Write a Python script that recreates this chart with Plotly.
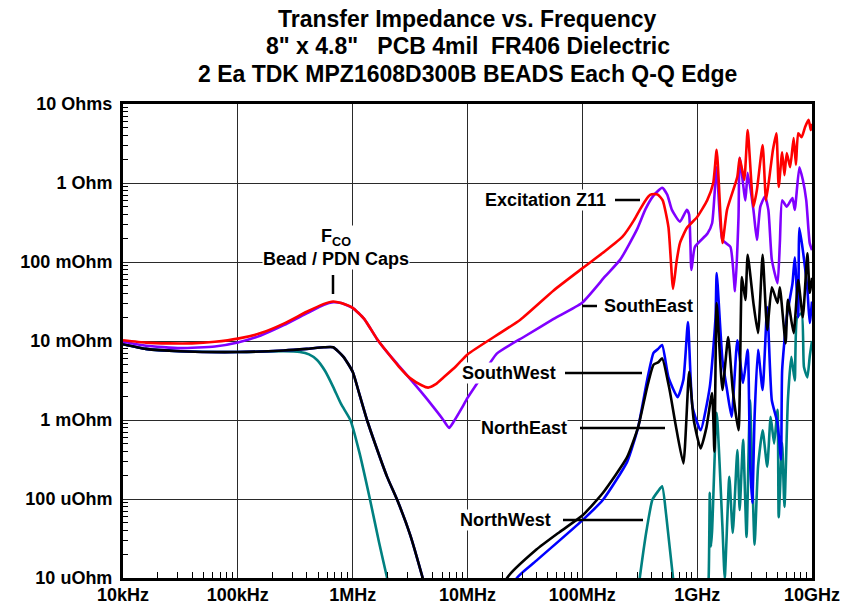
import plotly.graph_objects as go

# ---------------- data (log10 of Hz and log10 of Ohms) ----------------
red_logf = [4.00, 4.2, 4.4, 4.6, 4.8, 5.0, 5.2, 5.4, 5.6, 5.75, 5.83, 5.9, 6.0, 6.1, 6.21, 6.3, 6.4, 6.5, 6.6,
            6.657, 6.72, 6.8, 6.9, 7.0, 7.46, 7.75, 8.0, 8.2, 8.35, 8.45, 8.50, 8.55, 8.59, 8.63, 8.66, 8.70,
            8.75, 8.79, 8.82, 8.85, 8.91, 9.00, 9.087, 9.14, 9.17, 9.22, 9.26, 9.35, 9.37, 9.41, 9.44, 9.49,
            9.52, 9.57, 9.60, 9.64, 9.66, 9.69, 9.71, 9.74, 9.76, 9.78, 9.81, 9.84, 9.86, 9.88, 9.91, 9.94,
            9.97, 9.99, 10.0]
red_logz = [-1.99, -2.02, -2.03, -2.03, -2.01, -1.97, -1.90, -1.78, -1.63, -1.53, -1.50, -1.52, -1.58, -1.72,
            -1.97, -2.14, -2.32, -2.47, -2.56, -2.59, -2.55, -2.45, -2.32, -2.17, -1.73, -1.36, -1.08, -0.86,
            -0.68, -0.47, -0.34, -0.22, -0.15, -0.14, -0.15, -0.22, -0.56, -1.34, -1.0, -0.76, -0.57, -0.43,
            -0.22, 0.0, 0.42, -0.76, -0.34, 0.08, 0.32, 0.04, 0.67, -0.30, -0.09, 0.48, -0.22, 0.20, 0.42,
            0.63, -0.05, 0.39, 0.10, 0.38, 0.20, 0.57, 0.23, 0.63, 0.58, 0.71, 0.80, 0.67, 0.75]

purple_logf = [4.0, 4.2, 4.5, 4.8, 5.0, 5.2, 5.4, 5.6, 5.75, 5.83, 5.9, 6.0, 6.1, 6.21, 6.3, 6.4, 6.5, 6.6,
               6.7, 6.78, 6.84, 6.88, 6.95, 7.0, 7.1, 7.255, 7.5, 7.75, 7.995, 8.2, 8.33, 8.475, 8.55, 8.62,
               8.695, 8.74, 8.78, 8.85, 8.91, 8.93, 8.95, 8.98, 9.09, 9.13, 9.17, 9.22, 9.29, 9.33, 9.36, 9.37,
               9.42, 9.44, 9.49, 9.52, 9.55, 9.59, 9.62, 9.65, 9.70, 9.72, 9.74, 9.78, 9.83, 9.85, 9.89, 9.92,
               9.95, 9.98, 10.0]
purple_logz = [-2.01, -2.06, -2.09, -2.07, -2.02, -1.93, -1.80, -1.65, -1.54, -1.51, -1.52, -1.58, -1.72,
               -1.97, -2.14, -2.31, -2.48, -2.65, -2.83, -2.98, -3.10, -3.02, -2.85, -2.72, -2.50, -2.16,
               -1.94, -1.72, -1.52, -1.18, -0.97, -0.59, -0.33, -0.16, -0.06, -0.15, -0.34, -0.49, -0.34,
               -0.40, -1.10, -0.81, -0.64, -0.51, 0.20, -0.72, -0.81, -1.37, -0.43, 0.32, -0.22, 0.13, -0.34,
               -0.72, -0.30, -0.17, -0.34, -0.97, -1.27, -0.76, -0.22, -0.30, -0.19, -0.34, 0.20, 0.04, -0.22,
               -0.76, -0.85]

black_logf = [4.0, 4.2, 4.5, 5.0, 5.4, 5.6, 5.75, 5.83, 5.92, 6.0, 6.06, 6.125, 6.2, 6.3, 6.39, 6.5, 6.61,
              6.72, 7.25, 7.345, 7.6, 7.8, 8.0, 8.18, 8.39, 8.486, 8.565, 8.62, 8.66, 8.695, 8.76, 8.81, 8.88,
              8.93, 8.97, 9.03, 9.08, 9.13, 9.15, 9.17, 9.22, 9.27, 9.31, 9.36, 9.39, 9.42, 9.44, 9.49, 9.53,
              9.57, 9.61, 9.65, 9.70, 9.72, 9.77, 9.79, 9.84, 9.88, 9.92, 9.96, 9.98, 10.0]
black_logz = [-2.04, -2.10, -2.13, -2.14, -2.12, -2.10, -2.08, -2.08, -2.20, -2.39, -2.68, -3.0, -3.32, -3.72,
              -4.02, -4.45, -5.0, -5.6, -5.6, -5.0, -4.64, -4.42, -4.21, -3.92, -3.47, -3.09, -2.58, -2.30,
              -2.27, -2.22, -2.62, -3.04, -3.55, -2.39, -3.0, -3.36, -3.1, -2.66, -3.40, -1.52, -2.62, -1.95,
              -2.62, -3.13, -1.19, -1.48, -0.91, -1.52, -1.90, -0.91, -1.86, -1.32, -1.52, -1.32, -2.03, -1.48,
              -1.90, -1.23, -1.70, -0.89, -1.39, -1.2]

blue_logf = [4.0, 4.2, 4.5, 5.0, 5.4, 5.6, 5.75, 5.83, 5.92, 6.0, 6.06, 6.125, 6.2, 6.3, 6.39, 6.5, 6.61,
             6.72, 7.3, 7.43, 7.6, 8.0, 8.18, 8.39, 8.486, 8.565, 8.62, 8.66, 8.695, 8.75, 8.83, 8.88, 8.92,
             8.96, 9.03, 9.11, 9.16, 9.17, 9.22, 9.26, 9.30, 9.35, 9.40, 9.44, 9.46, 9.48, 9.50, 9.53, 9.57,
             9.61, 9.65, 9.70, 9.73, 9.74, 9.78, 9.83, 9.85, 9.88, 9.89, 9.92, 9.96, 9.98, 10.0]
blue_logz = [-2.04, -2.10, -2.13, -2.14, -2.12, -2.10, -2.08, -2.08, -2.20, -2.39, -2.68, -3.0, -3.32, -3.72,
             -4.02, -4.45, -5.0, -5.6, -5.6, -5.0, -4.78, -4.27, -4.01, -3.53, -3.09, -2.49, -2.15, -2.10,
             -2.05, -2.46, -2.71, -2.49, -1.76, -2.84, -3.13, -2.58, -1.70, -1.14, -2.24, -2.62, -2.96, -1.99,
             -2.53, -2.11, -3.5, -4.05, -2.96, -2.11, -2.62, -1.57, -2.75, -3.04, -3.5, -2.37, -1.70, -1.27,
             -0.94, -1.70, -0.57, -0.85, -1.35, -1.77, -1.5]

teal_logf = [4.0, 4.2, 4.5, 5.0, 5.4, 5.54, 5.62, 5.69, 5.76, 5.83, 5.9, 5.98, 6.06, 6.15, 6.23, 6.30, 6.4,
             8.45, 8.50, 8.56, 8.61, 8.66, 8.695, 8.73, 8.79, 8.85, 9.07, 9.10, 9.11, 9.12, 9.13, 9.17, 9.22,
             9.24, 9.28, 9.31, 9.35, 9.37, 9.40, 9.43, 9.46, 9.50, 9.53, 9.57, 9.61, 9.64, 9.67, 9.70, 9.71,
             9.74, 9.76, 9.79, 9.82, 9.85, 9.87, 9.91, 9.93, 9.96, 9.98, 10.0]
teal_logz = [-2.04, -2.10, -2.13, -2.14, -2.13, -2.14, -2.17, -2.24, -2.38, -2.58, -2.80, -3.0, -3.42, -4.0,
             -4.55, -5.0, -5.6, -5.6, -5.0, -4.39, -4.01, -3.9, -3.84, -4.2, -5.0, -5.6, -5.6, -5.0, -3.92,
             -4.6, -4.4, -2.91, -4.35, -5.0, -3.72, -4.43, -3.38, -4.14, -3.25, -4.48, -2.75, -4.58, -3.59,
             -3.13, -3.59, -2.96, -3.3, -2.87, -4.23, -3.29, -4.10, -2.75, -2.2, -2.5, -1.70, -1.65, -2.33,
             -2.46, -2.20, -2.0]

x_tick_vals = [1e4, 1e5, 1e6, 1e7, 1e8, 1e9, 1e10]
x_tick_text = ["10kHz", "100kHz", "1MHz", "10MHz", "100MHz", "1GHz", "10GHz"]
y_tick_vals = [1e-5, 1e-4, 1e-3, 1e-2, 1e-1, 1, 10]
y_tick_text = ["10 uOhm", "100 uOhm", "1 mOhm", "10 mOhm", "100 mOhm", "1 Ohm", "10 Ohms"]

series = [
    ("NorthWest", teal_logf, teal_logz, "#008080"),
    ("SouthWest", blue_logf, blue_logz, "#0000FF"),
    ("NorthEast", black_logf, black_logz, "#000000"),
    ("SouthEast", purple_logf, purple_logz, "#8000FF"),
    ("Excitation Z11", red_logf, red_logz, "#FF0000"),
]

FONT = "Liberation Sans, Arial, sans-serif"

fig = go.Figure()
for name, lf, lz, col in series:
    assert len(lf) == len(lz), name
    fig.add_trace(go.Scatter(
        x=[10 ** v for v in lf], y=[10 ** v for v in lz], mode="lines", name=name,
        line=dict(color=col, width=2.6, shape="spline", smoothing=0.5),
        showlegend=False, hoverinfo="skip"))

minor_x = [m * 10 ** e for e in range(4, 10) for m in range(2, 10)]
minor_y = [m * 10 ** e for e in range(-5, 1) for m in range(2, 10)]

axis_common = dict(type="log", showline=True, linewidth=3, linecolor="black", mirror=True,
                   showgrid=True, gridcolor="#2a2a2a", gridwidth=1, zeroline=False, ticks="",
                   automargin=False,
                   tickfont=dict(family=FONT, size=18, color="black", weight="bold"))

fig.update_xaxes(**axis_common, range=[4, 10], tickmode="array", tickvals=x_tick_vals, ticktext=x_tick_text,
                 ticklabelstandoff=-2,
                 minor=dict(tickmode="array", tickvals=minor_x, ticks="inside", ticklen=6,
                            tickcolor="black", tickwidth=1, showgrid=False))
fig.update_yaxes(**axis_common, range=[-5, 1], tickmode="array", tickvals=y_tick_vals, ticktext=y_tick_text,
                 ticklabelstandoff=4,
                 minor=dict(tickmode="array", tickvals=minor_y, ticks="inside", ticklen=5,
                            tickcolor="black", tickwidth=1, showgrid=False))

# ---------------- annotations ----------------
def px_x(p):
    return (p - 123) / 689.0

def px_y(p):
    return (578 - p) / 474.0

ann_font = dict(family=FONT, size=18, color="black", weight="bold")
title_font = dict(family=FONT, size=23, color="black", weight="bold")

annotations = []
title_lines = ["Transfer Impedance vs. Frequency",
               "8\" x 4.8\"   PCB 4mil  FR406 Dielectric",
               "2 Ea TDK MPZ1608D300B BEADS Each Q-Q Edge"]
for txt, py in zip(title_lines, [19, 46, 74]):
    annotations.append(dict(text=txt.replace("  ", "&nbsp; "), xref="paper", yref="paper", x=0.5, y=px_y(py),
                            xanchor="center", yanchor="middle", showarrow=False, font=title_font))

labels = [
    ("Excitation Z11", 607, 200, "right", (615, 640)),
    ("SouthEast", 603, 306, "left", (582, 597)),
    ("SouthWest", 557, 373, "right", (565, 642)),
    ("NorthEast", 568, 428, "right", (580, 665)),
    ("NorthWest", 552, 520, "right", (563, 643)),
]
shapes = []
for txt, tx, ty, anchor, (l0, l1) in labels:
    annotations.append(dict(text=txt, xref="paper", yref="paper", x=px_x(tx), y=px_y(ty), xanchor=anchor,
                            yanchor="middle", showarrow=False, font=ann_font, bgcolor="white", borderpad=0))
    shapes.append(dict(type="line", xref="paper", yref="paper", x0=px_x(l0), x1=px_x(l1),
                       y0=px_y(ty), y1=px_y(ty), line=dict(color="black", width=2.5)))

annotations.append(dict(text="F<sub>CO</sub><br>Bead / PDN Caps", xref="paper", yref="paper", x=px_x(336),
                        y=px_y(248), xanchor="center", yanchor="middle", showarrow=False, font=ann_font,
                        bgcolor="white", borderpad=0, align="center"))
shapes.append(dict(type="line", xref="paper", yref="paper", x0=px_x(333), x1=px_x(333), y0=px_y(275),
                   y1=px_y(294), line=dict(color="black", width=2.5)))

fig.update_layout(width=843, height=605, margin=dict(l=123, r=31, t=104, b=27),
                  paper_bgcolor="white", plot_bgcolor="white", showlegend=False,
                  annotations=annotations, shapes=shapes)

fig.write_html("out.html")
